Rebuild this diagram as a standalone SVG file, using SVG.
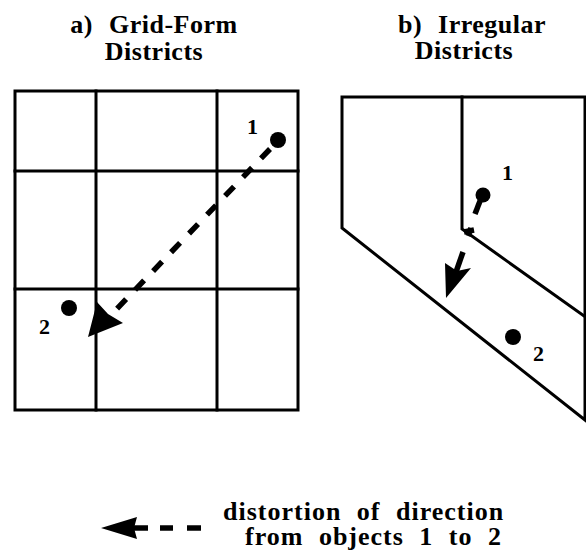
<svg xmlns="http://www.w3.org/2000/svg" width="586" height="552" viewBox="0 0 586 552">
<style>
.t{font-family:"Liberation Serif","Times New Roman",serif;font-weight:bold;fill:#000}
.title{font-size:26px;letter-spacing:0.5px;word-spacing:9px}
.lab{font-size:22px}
.leg{font-size:26px;letter-spacing:1px;word-spacing:8px}
.ln{fill:none;stroke:#000;stroke-width:3;stroke-linejoin:miter;stroke-linecap:square}
.dash{fill:none;stroke:#000;stroke-width:5.5;stroke-linecap:butt}
</style>
<rect width="586" height="552" fill="#fff"/>
<g id="title-a">
<text class="t title" x="154" y="33" text-anchor="middle">a) Grid-Form</text>
<text class="t title" x="154" y="60" text-anchor="middle">Districts</text>
</g>
<g id="title-b">
<text class="t title" x="472" y="33" text-anchor="middle">b) Irregular</text>
<text class="t title" x="464" y="59" text-anchor="middle">Districts</text>
</g>
<g id="grid-a">
<rect class="ln" x="15" y="91" width="283" height="319"/>
<line class="ln" x1="96" y1="91" x2="96" y2="410"/>
<line class="ln" x1="217" y1="91" x2="217" y2="410"/>
<line class="ln" x1="15" y1="171" x2="298" y2="171"/>
<line class="ln" x1="15" y1="289" x2="298" y2="289"/>
</g>
<g id="districts-b">
<polygon class="ln" points="342,97 585,97 585,420 342,228"/>
<polyline class="ln" points="462,97 462,229 584,316"/>
</g>
<g id="objects-a">
<circle cx="278" cy="140" r="8"/>
<text class="t lab" x="247" y="134">1</text>
<circle cx="69" cy="308" r="8"/>
<text class="t lab" x="39" y="334">2</text>
</g>
<g id="objects-b">
<circle cx="483" cy="195" r="7.5"/>
<text class="t lab" x="502" y="180">1</text>
<circle cx="513" cy="337" r="8"/>
<text class="t lab" x="533" y="361">2</text>
</g>
<g id="connectors">
<line class="dash" x1="270" y1="149" x2="110" y2="316" stroke-dasharray="13 13"/>
<polygon points="88,337 97,302 108,314 123,323"/>
<line class="dash" x1="480" y1="201" x2="475" y2="214"/>
<line class="dash" x1="471" y1="228" x2="468" y2="236"/>
<line class="dash" stroke-width="2" x1="464" y1="232" x2="474" y2="230"/>
<line class="dash" x1="463" y1="252" x2="456" y2="272"/>
<polygon points="446,298 445,263 457,271 471,268"/>
</g>
<g id="legend">
<polygon points="101,528 137,517 134,528 137,539"/>
<line class="dash" x1="134" y1="528" x2="148" y2="528"/>
<line class="dash" x1="160" y1="528" x2="173" y2="528"/>
<line class="dash" x1="187" y1="528" x2="201" y2="528"/>
<text class="t leg" x="223" y="520">distortion of direction</text>
<text class="t leg" x="245" y="545">from objects 1 to 2</text>
</g>
</svg>
